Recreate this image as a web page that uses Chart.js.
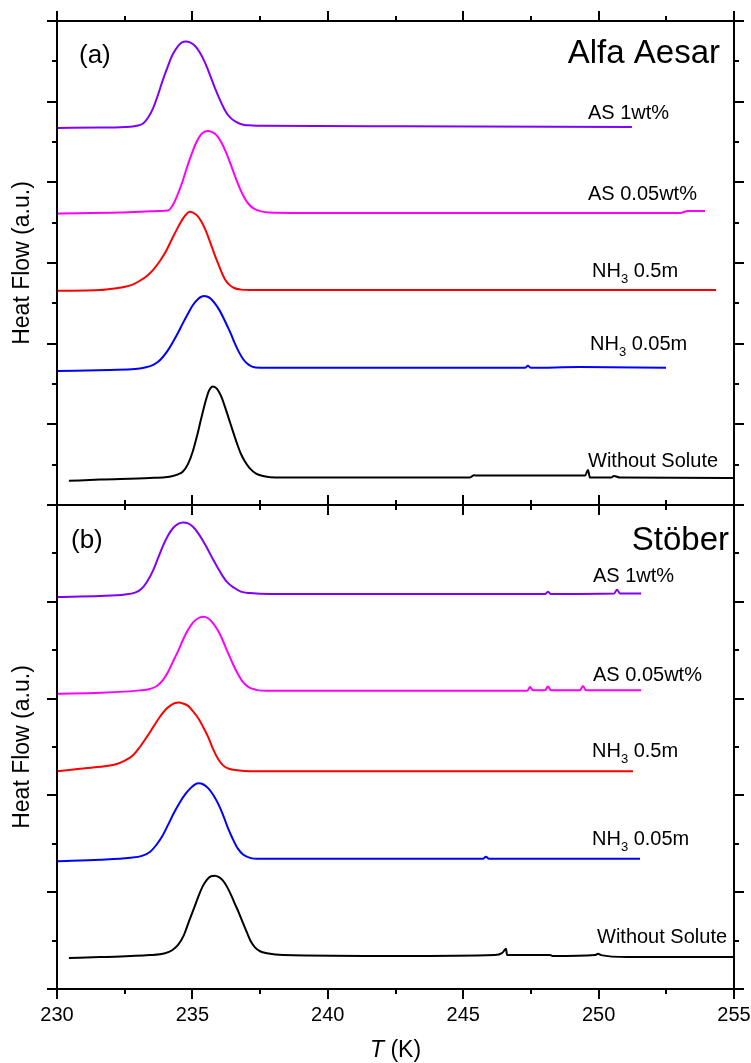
<!DOCTYPE html>
<html><head><meta charset="utf-8">
<script src="https://cdn.jsdelivr.net/npm/chart.js@4.4.1/dist/chart.umd.min.js"></script>
<style>
html,body{margin:0;padding:0;background:#fff;width:751px;height:1063px;overflow:hidden}
canvas{position:absolute;left:0}
#c1{top:0}
#c2{top:495px}
</style></head><body>
<canvas id="c1" width="751" height="520"></canvas>
<canvas id="c2" width="751" height="568"></canvas>
<script>
// ---------- axis ticks ----------
const xMajorTicks = [230, 235, 240, 245, 250, 255];
const xMinorTicks = [232.5, 237.5, 242.5, 247.5, 252.5];
const yTicksTop = [0,1,2,3,4,5,6,7,8,9,10,11,12];
const yTicksBottom = [0,1,2,3,4,5,6,7,8,9,10];

// ---------- panel (a) Alfa Aesar ----------
const aT_AS1 = [230.00,231.59,232.70,232.99,233.18,233.36,233.55,233.73,233.91,234.10,234.28,234.47,234.62,234.76,234.91,235.10,235.28,235.47,235.65,235.83,236.02,236.20,236.39,236.61,236.87,237.20,237.57,242.67,251.23];
const aH_AS1 = [9.35,9.36,9.38,9.41,9.46,9.60,9.84,10.17,10.54,10.89,11.18,11.38,11.47,11.49,11.47,11.38,11.21,10.96,10.66,10.34,10.04,9.79,9.61,9.50,9.43,9.41,9.40,9.39,9.37];
const aT_AS005 = [230.00,232.33,233.43,233.80,234.10,234.27,234.44,234.62,234.79,234.96,235.13,235.30,235.44,235.58,235.71,235.89,236.06,236.23,236.40,236.57,236.74,236.92,237.09,237.29,237.53,237.84,238.97,246.36,253.01,253.30,253.93];
const aH_AS005 = [7.23,7.25,7.28,7.29,7.30,7.43,7.67,7.99,8.35,8.68,8.97,9.17,9.25,9.27,9.25,9.17,9.00,8.76,8.47,8.16,7.87,7.62,7.45,7.34,7.28,7.25,7.24,7.24,7.24,7.29,7.29];
const aT_NH05 = [230.00,231.59,232.14,232.51,232.81,233.06,233.32,233.55,233.80,234.03,234.25,234.47,234.65,234.80,234.91,235.02,235.17,235.32,235.47,235.61,235.76,235.91,236.06,236.20,236.35,236.54,236.79,237.13,238.97,246.91,254.34];
const aH_NH05 = [5.31,5.33,5.37,5.41,5.47,5.56,5.68,5.83,6.05,6.30,6.60,6.89,7.10,7.23,7.27,7.25,7.18,7.04,6.84,6.60,6.32,6.05,5.80,5.60,5.47,5.38,5.34,5.33,5.33,5.33,5.33];
const aT_NH005 = [230.00,231.96,232.88,233.25,233.51,233.73,233.91,234.10,234.28,234.47,234.65,234.84,235.02,235.21,235.35,235.43,235.54,235.69,235.83,235.98,236.13,236.28,236.43,236.57,236.72,236.87,237.02,237.20,237.50,242.67,247.28,247.39,247.50,249.31,252.49];
const aH_NH005 = [3.32,3.35,3.37,3.41,3.46,3.55,3.67,3.84,4.04,4.27,4.51,4.75,4.96,5.11,5.17,5.18,5.17,5.11,5.00,4.85,4.66,4.45,4.23,4.00,3.79,3.62,3.51,3.43,3.40,3.40,3.40,3.45,3.40,3.42,3.40];
const aT_WS = [230.44,231.59,233.43,233.99,234.28,234.47,234.65,234.84,235.02,235.17,235.32,235.47,235.61,235.76,235.91,236.06,236.20,236.35,236.50,236.65,236.79,236.94,237.13,237.35,237.61,237.87,238.97,245.25,245.40,245.47,249.50,249.61,249.68,250.46,250.57,250.79,255.00];
const aH_WS = [0.60,0.63,0.67,0.69,0.72,0.76,0.83,1.02,1.34,1.71,2.13,2.53,2.83,2.94,2.88,2.70,2.44,2.13,1.82,1.52,1.27,1.08,0.90,0.78,0.72,0.69,0.68,0.68,0.74,0.73,0.73,0.87,0.68,0.68,0.72,0.68,0.67];

// ---------- panel (b) Stöber ----------
const bT_AS1 = [230.00,231.59,232.51,232.88,233.10,233.32,233.55,233.73,233.91,234.10,234.28,234.47,234.65,234.84,235.02,235.21,235.39,235.58,235.76,235.95,236.13,236.31,236.54,236.79,237.13,237.87,238.97,248.02,248.13,248.24,250.57,250.68,250.79,251.57];
const bH_AS1 = [8.10,8.12,8.15,8.19,8.26,8.41,8.65,8.90,9.15,9.37,9.52,9.61,9.64,9.62,9.55,9.42,9.26,9.07,8.88,8.69,8.52,8.39,8.29,8.21,8.18,8.16,8.16,8.16,8.21,8.16,8.17,8.25,8.17,8.17];
const bT_AS005 = [230.00,231.59,233.06,233.43,233.69,233.91,234.10,234.28,234.47,234.65,234.84,235.02,235.21,235.39,235.58,235.76,235.95,236.13,236.31,236.50,236.68,236.87,237.09,237.35,237.75,238.97,247.36,247.47,247.58,248.02,248.13,248.24,249.31,249.42,249.53,251.57];
const bH_AS005 = [6.10,6.12,6.17,6.20,6.26,6.38,6.55,6.76,6.98,7.21,7.42,7.57,7.66,7.69,7.66,7.56,7.40,7.19,6.95,6.71,6.51,6.34,6.23,6.18,6.16,6.16,6.16,6.24,6.17,6.17,6.25,6.17,6.17,6.26,6.17,6.17];
const bT_NH05 = [230.00,230.85,231.59,232.14,232.51,232.81,233.06,233.32,233.55,233.77,233.99,234.17,234.36,234.51,234.65,234.84,235.02,235.21,235.39,235.58,235.76,235.95,236.13,236.35,236.65,237.13,238.97,251.27];
const bH_NH05 = [4.50,4.55,4.59,4.64,4.72,4.83,5.00,5.21,5.41,5.60,5.76,5.85,5.91,5.92,5.90,5.85,5.74,5.60,5.42,5.21,4.96,4.75,4.62,4.55,4.52,4.50,4.50,4.50];
const bT_NH005 = [230.00,231.59,232.70,233.14,233.43,233.66,233.88,234.10,234.32,234.54,234.76,234.95,235.10,235.24,235.39,235.58,235.76,235.95,236.13,236.31,236.50,236.68,236.87,237.13,237.50,238.97,245.73,245.84,245.95,251.53];
const bH_NH005 = [2.64,2.67,2.71,2.75,2.83,2.97,3.15,3.39,3.64,3.86,4.04,4.16,4.23,4.25,4.23,4.15,4.02,3.83,3.60,3.33,3.09,2.90,2.78,2.71,2.69,2.69,2.69,2.73,2.69,2.69];
const bT_WS = [230.44,231.59,233.43,233.99,234.25,234.47,234.69,234.87,235.06,235.24,235.39,235.54,235.69,235.83,235.98,236.13,236.28,236.43,236.57,236.72,236.87,237.02,237.16,237.31,237.50,237.75,238.35,242.67,246.17,246.43,246.54,246.58,246.62,248.21,248.32,249.87,249.98,250.09,251.05,255.00];
const bH_WS = [0.64,0.66,0.70,0.74,0.80,0.91,1.12,1.39,1.67,1.94,2.13,2.26,2.33,2.34,2.31,2.24,2.11,1.94,1.76,1.57,1.36,1.16,0.98,0.86,0.78,0.74,0.70,0.68,0.70,0.74,0.81,0.83,0.70,0.70,0.68,0.70,0.73,0.70,0.66,0.66];

// ---------- series meta ----------
const seriesNames = ['AS 1wt%', 'AS 0.05wt%', 'NH3 0.5m', 'NH3 0.05m', 'Without Solute'];
const seriesColors = ['#7F00FF', '#FF00FF', '#FF0000', '#0000FF', '#000000'];

const FONT = 'Arial, "Liberation Sans", sans-serif';
const pts = (T, H) => T.map((t, i) => ({x: t, y: H[i]}));

function makeDatasets(list) {
  return list.map((pair, i) => ({
    label: seriesNames[i],
    data: pts(pair[0], pair[1]),
    borderColor: seriesColors[i],
    borderWidth: 2,
    pointRadius: 0,
    fill: false,
    cubicInterpolationMode: 'monotone'
  }));
}

function drawNH3(ctx, x, y, rest) {
  ctx.font = '20px ' + FONT;
  ctx.fillText('NH', x, y);
  const w = ctx.measureText('NH').width;
  ctx.font = '13px ' + FONT;
  ctx.fillText('3', x + w, y + 6);
  const w3 = ctx.measureText('3').width;
  ctx.font = '20px ' + FONT;
  ctx.fillText(rest, x + w + w3, y);
}

function drawFrame(chart, yTicks) {
  const {ctx, chartArea: a} = chart;
  const xs = chart.scales.x, ys = chart.scales.y;
  ctx.save();
  ctx.strokeStyle = '#000';
  ctx.lineWidth = 2;
  ctx.beginPath();
  ctx.rect(a.left, a.top, a.right - a.left, a.bottom - a.top);
  ctx.stroke();
  ctx.beginPath();
  const xt = xMajorTicks.map(v => [v, 10]).concat(xMinorTicks.map(v => [v, 5]));
  xt.forEach(([v, len]) => {
    const px = Math.round(xs.getPixelForValue(v));
    ctx.moveTo(px, a.top - len); ctx.lineTo(px, a.top);
    ctx.moveTo(px, a.bottom); ctx.lineTo(px, a.bottom + len);
  });
  yTicks.forEach(v => {
    const py = Math.round(ys.getPixelForValue(v));
    const len = v % 2 === 0 ? 10 : 5;
    ctx.moveTo(a.left - len, py); ctx.lineTo(a.left, py);
    ctx.moveTo(a.right, py); ctx.lineTo(a.right + len, py);
  });
  ctx.stroke();
  // y title
  ctx.fillStyle = '#000';
  ctx.save();
  ctx.translate(23, (a.top + a.bottom) / 2);
  ctx.rotate(-Math.PI / 2);
  ctx.font = '23px ' + FONT;
  ctx.textAlign = 'center';
  ctx.textBaseline = 'middle';
  ctx.fillText('Heat Flow (a.u.)', 0, 0);
  ctx.restore();
  ctx.restore();
}

const topPlugin = {
  id: 'topFrame',
  afterDraw(chart) {
    drawFrame(chart, yTicksTop);
    const ctx = chart.ctx;
    ctx.save();
    ctx.fillStyle = '#000';
    ctx.textBaseline = 'alphabetic';
    ctx.textAlign = 'left';
    ctx.font = '26px ' + FONT;
    ctx.fillText('(a)', 79, 63);
    ctx.textAlign = 'right';
    ctx.font = '33px ' + FONT;
    ctx.fillText('Alfa Aesar', 720, 63);
    ctx.textAlign = 'left';
    ctx.font = '20px ' + FONT;
    ctx.fillText('AS 1wt%', 588, 119);
    ctx.fillText('AS 0.05wt%', 588, 200);
    drawNH3(ctx, 592, 277, ' 0.5m');
    drawNH3(ctx, 590, 350, ' 0.05m');
    ctx.font = '20px ' + FONT;
    ctx.fillText('Without Solute', 588, 467);
    ctx.restore();
  }
};

const OFF = 495;
const bottomPlugin = {
  id: 'bottomFrame',
  afterDraw(chart) {
    drawFrame(chart, yTicksBottom);
    const ctx = chart.ctx;
    const a = chart.chartArea;
    const xs = chart.scales.x;
    ctx.save();
    ctx.fillStyle = '#000';
    ctx.textBaseline = 'alphabetic';
    ctx.textAlign = 'left';
    ctx.font = '26px ' + FONT;
    ctx.fillText('(b)', 71, 548 - OFF);
    ctx.textAlign = 'right';
    ctx.font = '33px ' + FONT;
    ctx.fillText('Stöber', 729, 550 - OFF);
    ctx.textAlign = 'left';
    ctx.font = '20px ' + FONT;
    ctx.fillText('AS 1wt%', 593, 582 - OFF);
    ctx.fillText('AS 0.05wt%', 593, 681 - OFF);
    drawNH3(ctx, 592, 757 - OFF, ' 0.5m');
    drawNH3(ctx, 592, 845 - OFF, ' 0.05m');
    ctx.font = '20px ' + FONT;
    ctx.fillText('Without Solute', 597, 943 - OFF);
    // x tick labels
    ctx.textAlign = 'center';
    ctx.font = '20px ' + FONT;
    xMajorTicks.forEach(v => {
      ctx.fillText(String(v), xs.getPixelForValue(v), a.bottom + 32);
    });
    // x title  T (K)
    ctx.textAlign = 'left';
    ctx.font = 'italic 23px ' + FONT;
    const wT = ctx.measureText('T').width;
    ctx.font = '23px ' + FONT;
    const wR = ctx.measureText(' (K)').width;
    const cx = (a.left + a.right) / 2;
    const x0 = cx - (wT + wR) / 2;
    const by = a.bottom + 68;
    ctx.font = 'italic 23px ' + FONT;
    ctx.fillText('T', x0, by);
    ctx.font = '23px ' + FONT;
    ctx.fillText(' (K)', x0 + wT, by);
    ctx.restore();
  }
};

function baseOptions(yMax, pad) {
  return {
    responsive: false,
    animation: false,
    layout: {padding: pad},
    plugins: {legend: {display: false}, tooltip: {enabled: false}},
    scales: {
      x: {type: 'linear', min: 230, max: 255, display: false},
      y: {type: 'linear', min: 0, max: yMax, display: false}
    }
  };
}

new Chart(document.getElementById('c1'), {
  type: 'line',
  data: {datasets: makeDatasets([[aT_AS1, aH_AS1], [aT_AS005, aH_AS005], [aT_NH05, aH_NH05], [aT_NH005, aH_NH005], [aT_WS, aH_WS]])},
  options: baseOptions(12, {left: 57, right: 17, top: 21, bottom: 15}),
  plugins: [topPlugin]
});

new Chart(document.getElementById('c2'), {
  type: 'line',
  data: {datasets: makeDatasets([[bT_AS1, bH_AS1], [bT_AS005, bH_AS005], [bT_NH05, bH_NH05], [bT_NH005, bH_NH005], [bT_WS, bH_WS]])},
  options: baseOptions(10, {left: 57, right: 17, top: 10, bottom: 74}),
  plugins: [bottomPlugin]
});
</script>
</body></html>
